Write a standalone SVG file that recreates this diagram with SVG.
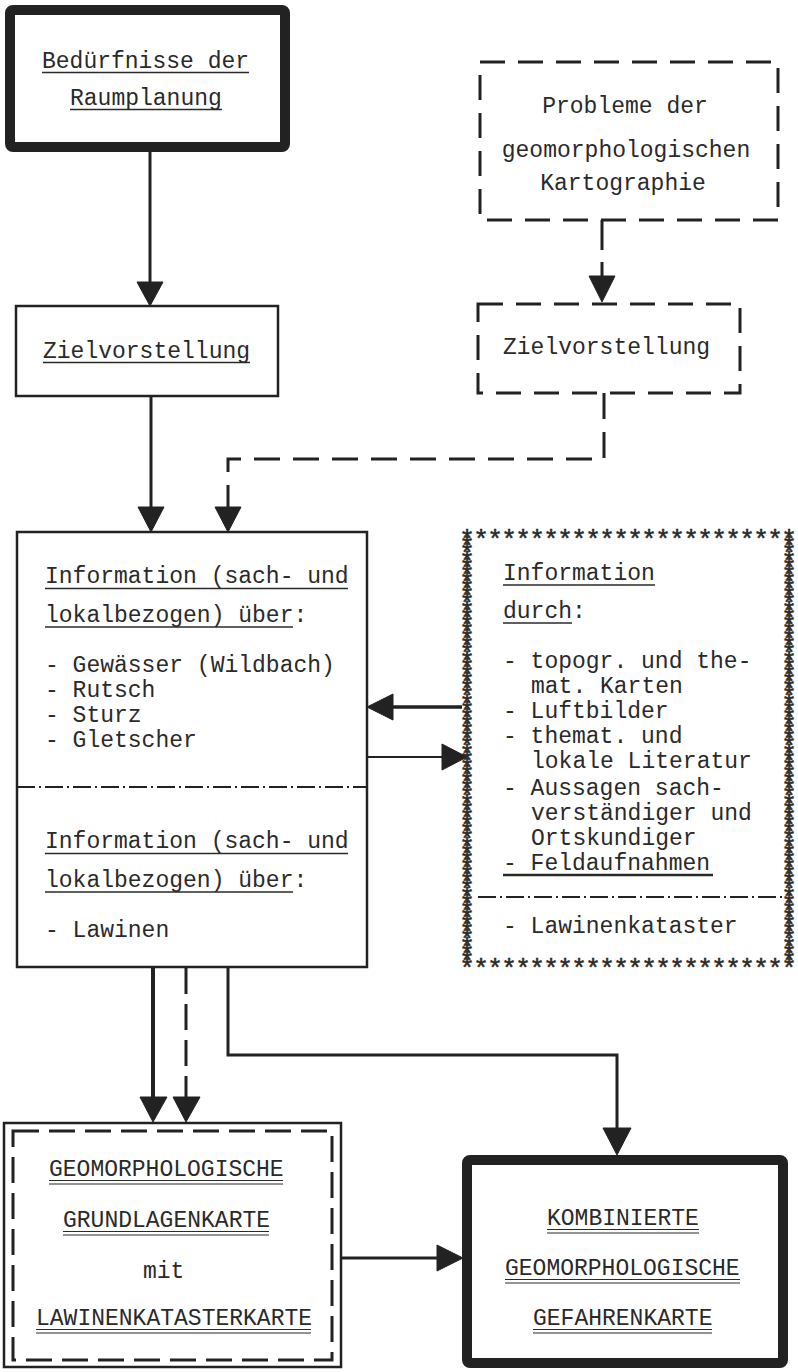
<svg xmlns="http://www.w3.org/2000/svg" width="798" height="1372" viewBox="0 0 798 1372">
<style>
.t{font-family:"Liberation Mono","DejaVu Sans Mono",monospace;font-size:23px;fill:#2a2a2a}
.ast{font-family:"Liberation Mono","DejaVu Sans Mono",monospace;font-size:26px;fill:#2a2a2a;stroke:#2a2a2a;stroke-width:0.5;text-anchor:middle}
.ul{stroke:#2a2a2a;stroke-width:1.4;fill:none}
.box{fill:#fff;stroke:#222;stroke-width:2.5}
.thick{fill:#fff;stroke:#222;stroke-width:10}
.dash{fill:#fff;stroke:#222;stroke-width:3;stroke-dasharray:25 13}
.ln{stroke:#222;fill:none;stroke-width:3}
.dl{stroke:#222;fill:none;stroke-width:3;stroke-dasharray:26 12}
.dd{stroke:#222;fill:none;stroke-width:2.2;stroke-dasharray:18 4 2 4}
.ah{fill:#222;stroke:#222;stroke-width:1;stroke-linejoin:round}
</style>
<rect width="798" height="1372" fill="#fff"/>

<g id="connectors">
  <line class="ln" x1="150" y1="152" x2="150" y2="284"/>
  <polygon class="ah" points="137,282 163,282 150,306"/>
  <line class="ln" x1="151" y1="396" x2="151" y2="509"/>
  <polygon class="ah" points="138,507 164,507 151,532"/>
  <line class="dl" x1="602" y1="220" x2="602" y2="278" style="stroke-dasharray:30 12"/>
  <polygon class="ah" points="589,276 615,276 602,302"/>
  <path class="dl" d="M604 393 V459 H228 V509" style="stroke-dasharray:26 13"/>
  <polygon class="ah" points="215,507 241,507 228,532"/>
  <line class="ln" x1="391" y1="707" x2="462" y2="707" style="stroke-width:3.5"/>
  <polygon class="ah" points="367,707 393,694 393,720"/>
  <line class="ln" x1="367" y1="757" x2="444" y2="757" style="stroke-width:2"/>
  <polygon class="ah" points="442,744 442,770 467,757"/>
  <line class="ln" x1="153" y1="967" x2="153" y2="1099" style="stroke-width:4"/>
  <polygon class="ah" points="140,1097 167,1097 153,1122"/>
  <line class="dl" x1="186" y1="968" x2="186" y2="1099" style="stroke-dasharray:26 10"/>
  <polygon class="ah" points="173,1097 200,1097 186,1122"/>
  <path class="ln" d="M228 967 V1055 H617 V1130"/>
  <polygon class="ah" points="603,1128 631,1128 617,1155"/>
  <line class="ln" x1="342" y1="1258" x2="439" y2="1258"/>
  <polygon class="ah" points="437,1245 437,1271 463,1258"/>
</g>

<g id="node-beduerfnisse">
  <rect class="thick" x="10" y="10" width="275" height="137" rx="3"/>
  <text class="t" x="42" y="68">Bedürfnisse der</text>
  <line class="ul" x1="42" y1="72.5" x2="249" y2="72.5"/>
  <text class="t" x="70" y="105">Raumplanung</text>
  <line class="ul" x1="70" y1="109.5" x2="222" y2="109.5"/>
</g>

<g id="node-probleme">
  <rect class="dash" x="480" y="62" width="298" height="158"/>
  <text class="t" x="625" y="113" text-anchor="middle">Probleme der</text>
  <text class="t" x="626" y="157" text-anchor="middle">geomorphologischen</text>
  <text class="t" x="623" y="190" text-anchor="middle">Kartographie</text>
</g>

<g id="node-ziel-left">
  <rect class="box" x="16" y="306" width="262" height="90"/>
  <text class="t" x="43" y="358">Zielvorstellung</text>
  <line class="ul" x1="43" y1="362.5" x2="250" y2="362.5"/>
</g>

<g id="node-ziel-right">
  <rect class="dash" x="478" y="304" width="262" height="89"/>
  <text class="t" x="503" y="354">Zielvorstellung</text>
</g>

<g id="node-information">
  <rect class="box" x="17" y="532" width="350" height="435"/>
  <text class="t" x="45" y="583">Information (sach- und</text>
  <line class="ul" x1="45" y1="588.5" x2="348" y2="588.5"/>
  <text class="t" x="45" y="622">lokalbezogen) über:</text>
  <line class="ul" x1="45" y1="627" x2="293" y2="627"/>
  <text class="t" x="45" y="672">- Gewässer (Wildbach)</text>
  <text class="t" x="45" y="697">- Rutsch</text>
  <text class="t" x="45" y="722">- Sturz</text>
  <text class="t" x="45" y="747">- Gletscher</text>
  <line class="dd" x1="17" y1="787" x2="367" y2="787"/>
  <text class="t" x="45" y="848">Information (sach- und</text>
  <line class="ul" x1="45" y1="853.5" x2="348" y2="853.5"/>
  <text class="t" x="45" y="887">lokalbezogen) über:</text>
  <line class="ul" x1="45" y1="892" x2="293" y2="892"/>
  <text class="t" x="45" y="937">- Lawinen</text>
</g>

<g id="node-information-durch">
  <text class="ast" x="467 481 495 509 523 537 551 565 579 593 607 621 635 649 663 677 691 705 719 733 747 761 775 789" y="548">************************</text>
  <text class="ast" x="467 481 495 509 523 537 551 565 579 593 607 621 635 649 663 677 691 705 719 733 747 761 775 789" y="977">************************</text>
  <text class="ast" x="467 467 467 467 467 467 467 467 467 467 467 467 467 467 467 467 467 467 467 467 467 467 467 467 467 467 467 467 467 467 467 467 467 467 467 467 467 467 467 467 467 467 467 467 467 467 467 467 467 467 467 467 467 467 467 467 467 467 467" y="555.2 562.3 569.5 576.6 583.8 590.9 598.1 605.2 612.4 619.5 626.7 633.8 641.0 648.1 655.3 662.4 669.6 676.7 683.9 691.0 698.2 705.3 712.5 719.6 726.8 733.9 741.1 748.2 755.4 762.5 769.7 776.8 784.0 791.1 798.3 805.4 812.6 819.7 826.9 834.0 841.2 848.3 855.5 862.6 869.8 876.9 884.1 891.2 898.4 905.5 912.7 919.8 927.0 934.1 941.3 948.4 955.6 962.7 969.9">***********************************************************</text>
  <text class="ast" x="789 789 789 789 789 789 789 789 789 789 789 789 789 789 789 789 789 789 789 789 789 789 789 789 789 789 789 789 789 789 789 789 789 789 789 789 789 789 789 789 789 789 789 789 789 789 789 789 789 789 789 789 789 789 789 789 789 789 789" y="555.2 562.3 569.5 576.6 583.8 590.9 598.1 605.2 612.4 619.5 626.7 633.8 641.0 648.1 655.3 662.4 669.6 676.7 683.9 691.0 698.2 705.3 712.5 719.6 726.8 733.9 741.1 748.2 755.4 762.5 769.7 776.8 784.0 791.1 798.3 805.4 812.6 819.7 826.9 834.0 841.2 848.3 855.5 862.6 869.8 876.9 884.1 891.2 898.4 905.5 912.7 919.8 927.0 934.1 941.3 948.4 955.6 962.7 969.9">***********************************************************</text>
  <text class="t" x="503" y="580">Information</text>
  <line class="ul" x1="503" y1="585" x2="655" y2="585"/>
  <text class="t" x="503" y="618">durch:</text>
  <line class="ul" x1="503" y1="623" x2="572" y2="623"/>
  <text class="t" x="503" y="668">- topogr. und the-</text>
  <text class="t" x="531" y="693">mat. Karten</text>
  <text class="t" x="503" y="718">- Luftbilder</text>
  <text class="t" x="503" y="743">- themat. und</text>
  <text class="t" x="531" y="768">lokale Literatur</text>
  <text class="t" x="503" y="795">- Aussagen sach-</text>
  <text class="t" x="531" y="820">verständiger und</text>
  <text class="t" x="531" y="845">Ortskundiger</text>
  <text class="t" x="503" y="870">- Feldaufnahmen</text>
  <line class="ul" x1="503" y1="875" x2="713" y2="875" style="stroke-width:2.6"/>
  <line class="dd" x1="478" y1="897" x2="783" y2="897"/>
  <text class="t" x="503" y="933">- Lawinenkataster</text>
</g>

<g id="node-grundlagenkarte">
  <rect class="box" x="4" y="1123" width="337" height="244"/>
  <rect class="dash" x="13" y="1131" width="319" height="229" style="stroke-dasharray:26 10"/>
  <text class="t" x="49" y="1176">GEOMORPHOLOGISCHE</text>
  <line class="ul" x1="49" y1="1180.5" x2="283" y2="1180.5" style="stroke-width:1.1"/>
  <line class="ul" x1="49" y1="1184" x2="283" y2="1184" style="stroke-width:1.1"/>
  <text class="t" x="63" y="1227">GRUNDLAGENKARTE</text>
  <line class="ul" x1="63" y1="1231.5" x2="269" y2="1231.5" style="stroke-width:1.1"/>
  <line class="ul" x1="63" y1="1235" x2="269" y2="1235" style="stroke-width:1.1"/>
  <text class="t" x="143" y="1278">mit</text>
  <text class="t" x="36" y="1325">LAWINENKATASTERKARTE</text>
  <line class="ul" x1="36" y1="1329.5" x2="311" y2="1329.5" style="stroke-width:1.1"/>
  <line class="ul" x1="36" y1="1333" x2="311" y2="1333" style="stroke-width:1.1"/>
</g>

<g id="node-gefahrenkarte">
  <rect class="thick" x="467" y="1160" width="316" height="203" rx="3"/>
  <text class="t" x="547" y="1225">KOMBINIERTE</text>
  <line class="ul" x1="547" y1="1229.5" x2="699" y2="1229.5" style="stroke-width:1.1"/>
  <line class="ul" x1="547" y1="1233" x2="699" y2="1233" style="stroke-width:1.1"/>
  <text class="t" x="505" y="1275">GEOMORPHOLOGISCHE</text>
  <line class="ul" x1="505" y1="1279.5" x2="740" y2="1279.5" style="stroke-width:1.1"/>
  <line class="ul" x1="505" y1="1283" x2="740" y2="1283" style="stroke-width:1.1"/>
  <text class="t" x="533" y="1325">GEFAHRENKARTE</text>
  <line class="ul" x1="533" y1="1329.5" x2="712" y2="1329.5" style="stroke-width:1.1"/>
  <line class="ul" x1="533" y1="1333" x2="712" y2="1333" style="stroke-width:1.1"/>
</g>
</svg>
